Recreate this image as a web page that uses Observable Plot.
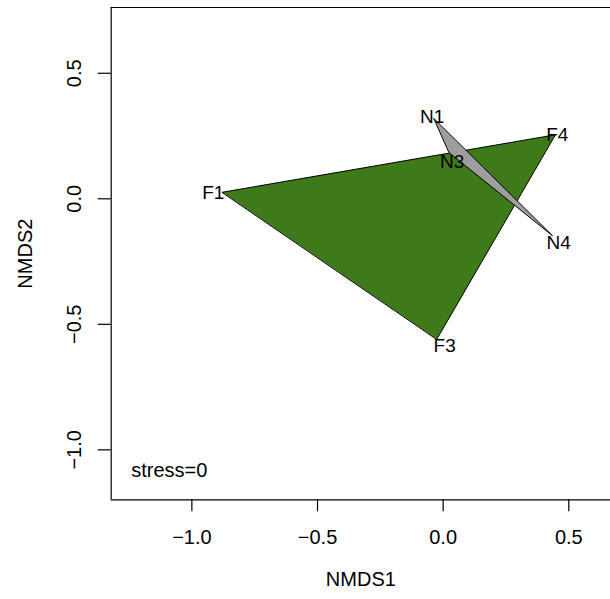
<!DOCTYPE html>
<html>
<head>
<meta charset="utf-8">
<script src="https://cdn.jsdelivr.net/npm/d3@7"></script>
<script src="https://cdn.jsdelivr.net/npm/@observablehq/plot@0.6"></script>
<style>
  html, body { margin: 0; padding: 0; background: #fff; overflow: hidden; }
  svg { display: block; font-family: "Liberation Sans", Arial, Helvetica, sans-serif; }
</style>
</head>
<body>
<div id="chart"></div>
<script>
// Site names and NMDS scores
const siteNames = ["F1", "F4", "F3", "N1", "N3", "N4"];
const siteGroups = ["F", "F", "F", "N", "N", "N"];
const nmds1 = [-0.879, 0.447, -0.025, -0.037, 0.023, 0.434];
const nmds2 = [0.026, 0.255, -0.559, 0.319, 0.184, -0.146];
// Label positions (as drawn in the picture)
const labelNmds1 = [-0.915, 0.454, 0.006, -0.044, 0.036, 0.460];
const labelNmds2 = [0.022, 0.255, -0.584, 0.328, 0.146, -0.177];

const xTicks = [-1.0, -0.5, 0.0, 0.5];
const yTicks = [-1.0, -0.5, 0.0, 0.5];
const xDomain = [-1.321, 0.666];
const yDomain = [-1.199, 0.762];

const groupFill = { F: "#3E7A1A", N: "#9E9E9E" };
const stressText = "stress=0";

const sites = siteNames.map((name, i) => ({
  name, group: siteGroups[i], x: nmds1[i], y: nmds2[i],
  lx: labelNmds1[i], ly: labelNmds2[i]
}));
const hullF = sites.filter(d => d.group === "F");
const hullN = sites.filter(d => d.group === "N");

const fmt = d3.format(".1f");
const font = 20;

const chart = Plot.plot({
  width: 610,
  height: 599,
  marginLeft: 110.7,
  marginRight: 0,
  marginTop: 7,
  marginBottom: 99.7,
  x: { domain: xDomain, axis: null },
  y: { domain: yDomain, axis: null },
  style: { fontFamily: "Liberation Sans, Arial, sans-serif", background: "white" },
  marks: [
    // hulls
    Plot.line(hullF, { x: "x", y: "y", curve: "linear-closed", fill: groupFill.F, stroke: "black", strokeWidth: 1 }),
    Plot.line(hullN, { x: "x", y: "y", curve: "linear-closed", fill: groupFill.N, stroke: "black", strokeWidth: 1 }),
    // site labels
    Plot.text(sites, { x: "lx", y: "ly", text: "name", fontSize: 19, fill: "black", textAnchor: "middle", lineAnchor: "middle" }),
    // box (left, top, bottom)
    Plot.ruleX([xDomain[0]], { stroke: "black", strokeWidth: 1.2 }),
    Plot.ruleY([yDomain[0], yDomain[1]], { stroke: "black", strokeWidth: 1.2 }),
    // axes ticks
    Plot.axisX({ ticks: xTicks, tickSize: 12, tickFormat: () => "", label: null, stroke: "black", strokeWidth: 1.2 }),
    Plot.axisY({ ticks: yTicks, tickSize: 13, tickFormat: () => "", label: null, stroke: "black", strokeWidth: 1.2 }),
    // tick labels
    Plot.text(xTicks, { x: d => d, frameAnchor: "bottom", dy: 38, text: d => fmt(d), fontSize: font, fill: "black", lineAnchor: "middle" }),
    Plot.text(yTicks, { y: d => d, frameAnchor: "left", dx: -37, rotate: -90, text: d => fmt(d), fontSize: font, fill: "black", textAnchor: "middle", lineAnchor: "middle" }),
    // axis titles
    Plot.text(["NMDS1"], { frameAnchor: "bottom", dy: 80, text: d => d, fontSize: font, fill: "black", lineAnchor: "middle" }),
    Plot.text(["NMDS2"], { frameAnchor: "left", dx: -86, rotate: -90, text: d => d, fontSize: font, fill: "black", textAnchor: "middle", lineAnchor: "middle" }),
    // stress annotation
    Plot.text([stressText], { frameAnchor: "bottom-left", dx: 20, dy: -29.3, text: d => d, fontSize: font, fill: "black", textAnchor: "start", lineAnchor: "middle" })
  ]
});
document.getElementById("chart").appendChild(chart);
</script>
</body>
</html>
